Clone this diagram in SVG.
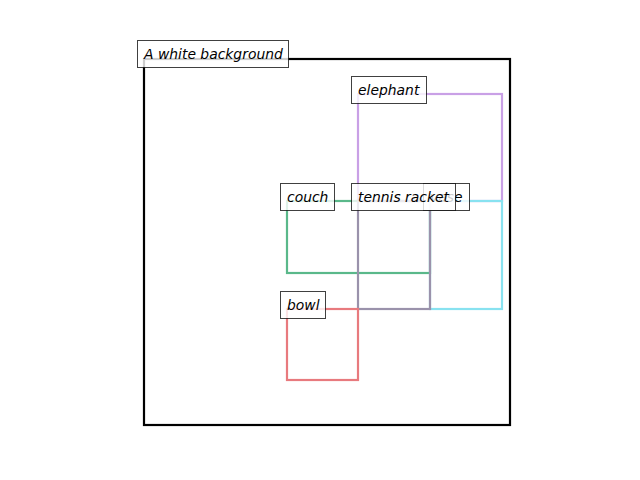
<svg xmlns="http://www.w3.org/2000/svg" width="640" height="480" viewBox="0 0 640 480">
<style>
.bx{fill:none;stroke-width:2.2;stroke-linecap:square}
.lb rect{fill:#fff;fill-opacity:0.8;stroke:#000;stroke-opacity:0.75;stroke-width:1}
.lb text{font-family:"DejaVu Sans",sans-serif;font-style:italic;font-size:13.9px;fill:#000}
</style>
<rect width="640" height="480" fill="#fff"/>
<g id="background"><rect x="144" y="59" width="366" height="366" fill="none" stroke="#000" stroke-width="2.2"/></g>
<g id="elephant"><rect class="bx" x="358" y="94" width="144" height="107" stroke="#c9a0e6"/></g>
<g id="couch"><rect class="bx" x="287" y="201" width="143" height="72" stroke="#5ab88a"/></g>
<g id="vase"><rect class="bx" x="430" y="201" width="72" height="108" stroke="#88e2f0"/></g>
<g id="tennis-racket"><rect class="bx" x="358" y="201" width="72" height="108" stroke="#9a92ab"/></g>
<g id="bowl"><rect class="bx" x="287" y="309" width="71" height="71" stroke="#e87a7e"/></g>
<g id="label-background" class="lb"><rect x="137.5" y="40.5" width="151" height="27"/><text x="144" y="58.5">A white background</text></g>
<g id="label-elephant" class="lb"><rect x="351.5" y="76.5" width="75" height="27"/><text x="358" y="94.5">elephant</text></g>
<g id="label-couch" class="lb"><rect x="280.5" y="183.5" width="54" height="27"/><text x="287" y="201.5">couch</text></g>
<g id="label-vase" class="lb"><rect x="423.5" y="183.5" width="46" height="27"/><text x="430" y="201.5">vase</text></g>
<g id="label-tennis-racket" class="lb"><rect x="351.5" y="183.5" width="104" height="27"/><text x="358" y="201.5">tennis racket</text></g>
<g id="label-bowl" class="lb"><rect x="280.5" y="291.5" width="45" height="27"/><text x="287" y="309.5">bowl</text></g>
</svg>
